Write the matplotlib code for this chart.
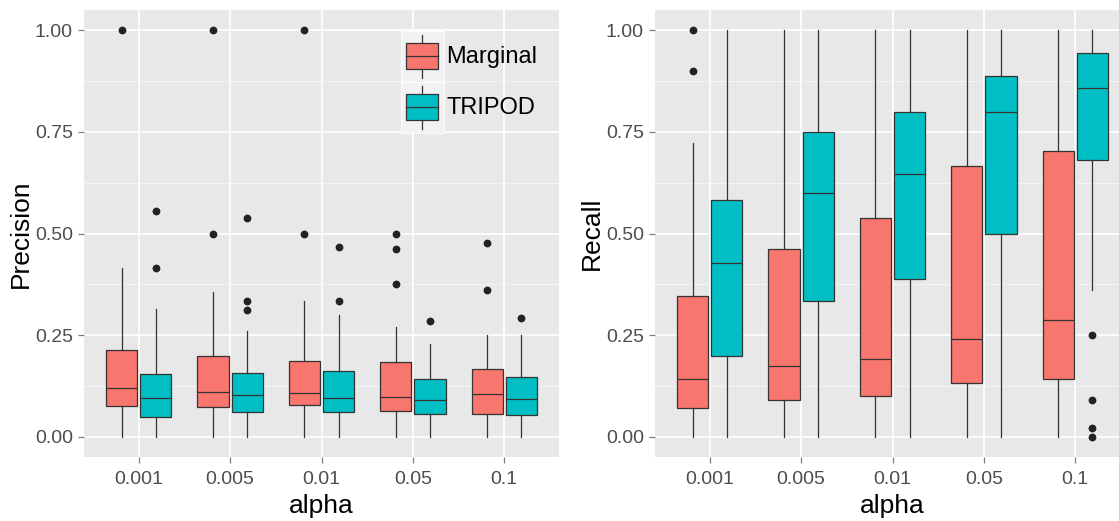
import matplotlib
matplotlib.use("Agg")
import matplotlib.pyplot as plt
from matplotlib.patches import Rectangle
from matplotlib.lines import Line2D
from matplotlib.legend_handler import HandlerBase

plt.rcParams['font.family'] = ['Liberation Sans', 'DejaVu Sans']

# ---- data -------------------------------------------------------------
alpha_labels = ['0.001', '0.005', '0.01', '0.05', '0.1']
groups = ['Marginal', 'TRIPOD']

# Precision
prec_marg_whislo = [0.0, 0.0, 0.0, 0.0, 0.0]
prec_marg_q1 = [0.076, 0.073, 0.077, 0.062, 0.056]
prec_marg_med = [0.121, 0.111, 0.107, 0.097, 0.106]
prec_marg_q3 = [0.214, 0.199, 0.186, 0.183, 0.166]
prec_marg_whishi = [0.416, 0.356, 0.333, 0.269, 0.250]
prec_marg_out = [[1.0], [1.0, 0.5], [1.0, 0.5], [0.5, 0.461, 0.375], [0.477, 0.36]]

prec_trip_whislo = [0.0, 0.0, 0.0, 0.0, 0.0]
prec_trip_q1 = [0.048, 0.061, 0.061, 0.057, 0.054]
prec_trip_med = [0.094, 0.102, 0.095, 0.091, 0.093]
prec_trip_q3 = [0.155, 0.156, 0.161, 0.143, 0.146]
prec_trip_whishi = [0.314, 0.261, 0.300, 0.228, 0.250]
prec_trip_out = [[0.555, 0.416], [0.538, 0.333, 0.312], [0.466, 0.333], [0.285], [0.292]]

# Recall
rec_marg_whislo = [0.0, 0.0, 0.0, 0.0, 0.0]
rec_marg_q1 = [0.071, 0.091, 0.099, 0.133, 0.143]
rec_marg_med = [0.143, 0.175, 0.191, 0.241, 0.286]
rec_marg_q3 = [0.346, 0.461, 0.538, 0.667, 0.704]
rec_marg_whishi = [0.722, 1.0, 1.0, 1.0, 1.0]
rec_marg_out = [[1.0, 0.9], [], [], [], []]

rec_trip_whislo = [0.0, 0.0, 0.0, 0.0, 0.361]
rec_trip_q1 = [0.199, 0.333, 0.389, 0.500, 0.681]
rec_trip_med = [0.428, 0.600, 0.647, 0.800, 0.857]
rec_trip_q3 = [0.583, 0.749, 0.799, 0.888, 0.943]
rec_trip_whishi = [1.0, 1.0, 1.0, 1.0, 1.0]
rec_trip_out = [[], [], [], [], [0.25, 0.091, 0.021, 0.0]]

y_ticks = [0.0, 0.25, 0.5, 0.75, 1.0]
y_tick_labels = ['0.00', '0.25', '0.50', '0.75', '1.00']

# ---- style -------------------------------------------------------------
FILL = {'Marginal': '#F8766D', 'TRIPOD': '#00BFC4'}
PANEL = '#E8E8E8'
LINE = '#333333'
TICK_TXT = '#4D4D4D'
DODGE = 0.1875
BOX_W = 0.34


def make_stats(whislo, q1, med, q3, whishi, out):
    return [dict(whislo=a, q1=b, med=c, q3=d, whishi=e, fliers=f)
            for a, b, c, d, e, f in zip(whislo, q1, med, q3, whishi, out)]


def style_axes(ax, ylabel):
    ax.set_facecolor(PANEL)
    for s in ax.spines.values():
        s.set_visible(False)
    ax.set_xlim(0.4, len(alpha_labels) + 0.6)
    ax.set_ylim(-0.05, 1.05)
    ax.set_xticks(range(1, len(alpha_labels) + 1))
    ax.set_xticklabels(alpha_labels)
    ax.set_yticks(y_ticks)
    ax.set_yticklabels(y_tick_labels)
    ax.set_yticks([0.125, 0.375, 0.625, 0.875], minor=True)
    ax.tick_params(axis='both', which='major', labelsize=14, labelcolor=TICK_TXT,
                   color='#7F7F7F', length=4, width=0.9)
    ax.tick_params(axis='x', which='major', pad=6)
    ax.tick_params(axis='y', which='major', pad=4)
    ax.tick_params(axis='y', which='minor', length=0)
    ax.grid(True, which='major', color='white', linewidth=1.2)
    ax.grid(True, which='minor', axis='y', color='#F5F5F5', linewidth=0.7)
    ax.set_axisbelow(True)
    ax.set_xlabel('alpha', fontsize=19)
    ax.set_ylabel(ylabel, fontsize=19)
    ax.yaxis.set_label_coords(-0.108, 0.5)
    ax.xaxis.set_label_coords(0.5, -0.082)


def draw_boxes(ax, marg_stats, trip_stats):
    for name, stats, off in (('Marginal', marg_stats, -DODGE), ('TRIPOD', trip_stats, DODGE)):
        pos = [i + 1 + off for i in range(len(stats))]
        ax.bxp(stats, positions=pos, widths=BOX_W, patch_artist=True, showcaps=False,
               manage_ticks=False,
               boxprops=dict(facecolor=FILL[name], edgecolor=LINE, linewidth=0.9),
               medianprops=dict(color=LINE, linewidth=0.9),
               whiskerprops=dict(color=LINE, linewidth=0.9),
               flierprops=dict(marker='o', markerfacecolor='#222222',
                               markeredgecolor='#222222', markersize=4.6))


class BoxKey(HandlerBase):
    def create_artists(self, legend, orig_handle, xdescent, ydescent,
                       width, height, fontsize, trans):
        x0, y0 = -xdescent, -ydescent
        fill = orig_handle.get_facecolor()
        bg = Rectangle((x0, y0), width, height, facecolor='#F2F2F2',
                       edgecolor='white', linewidth=0.6, transform=trans)
        bx = x0 + width * 0.12
        bw = width * 0.74
        by = y0 + height * 0.25
        bh = height * 0.51
        box = Rectangle((bx, by), bw, bh, facecolor=fill, edgecolor=LINE,
                        linewidth=0.9, transform=trans)
        cx = x0 + width / 2
        wlo = Line2D([cx, cx], [y0 + height * 0.08, by], color=LINE, lw=0.9, transform=trans)
        whi = Line2D([cx, cx], [by + bh, y0 + height * 0.92], color=LINE, lw=0.9, transform=trans)
        med = Line2D([bx, bx + bw], [by + bh / 2] * 2, color=LINE, lw=0.9, transform=trans)
        return [bg, wlo, whi, box, med]


fig = plt.figure(figsize=(11.19, 5.21), dpi=100)
W, H = 1119.0, 521.0
ax1 = fig.add_axes([84 / W, (H - 457) / H, 475 / W, 447 / H])
ax2 = fig.add_axes([655 / W, (H - 457) / H, 475 / W, 447 / H])

style_axes(ax1, 'Precision')
style_axes(ax2, 'Recall')

draw_boxes(ax1,
           make_stats(prec_marg_whislo, prec_marg_q1, prec_marg_med, prec_marg_q3, prec_marg_whishi, prec_marg_out),
           make_stats(prec_trip_whislo, prec_trip_q1, prec_trip_med, prec_trip_q3, prec_trip_whishi, prec_trip_out))
draw_boxes(ax2,
           make_stats(rec_marg_whislo, rec_marg_q1, rec_marg_med, rec_marg_q3, rec_marg_whishi, rec_marg_out),
           make_stats(rec_trip_whislo, rec_trip_q1, rec_trip_med, rec_trip_q3, rec_trip_whishi, rec_trip_out))

handles = [Rectangle((0, 0), 1, 1, facecolor=FILL[g]) for g in groups]
ax1.legend(handles, groups, handler_map={Rectangle: BoxKey()},
           loc='upper left', bbox_to_anchor=((401 - 84) / 475, (457 - 31) / 447),
           frameon=False, fontsize=17, handlelength=1.82, handleheight=2.94,
           handletextpad=0.1, labelspacing=0.0, borderpad=0.0, borderaxespad=0.0)

fig.savefig('out.png', dpi=100, facecolor='white')
